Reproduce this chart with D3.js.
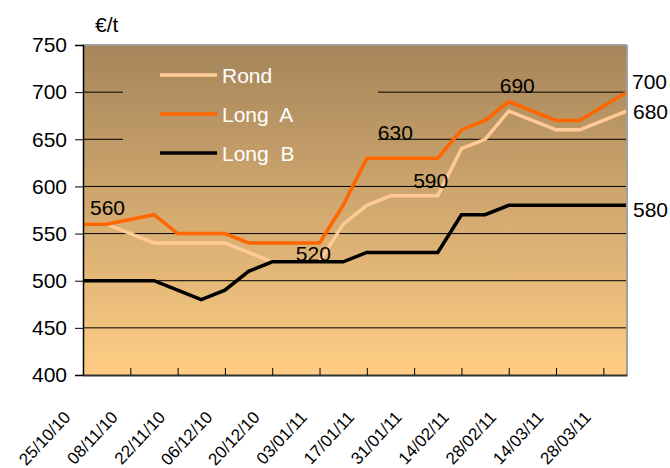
<!DOCTYPE html>
<html>
<head>
<meta charset="utf-8">
<script src="https://cdn.jsdelivr.net/npm/d3@7"></script>
<style>
  body { margin: 0; background: #fff; }
  svg text { font-family: "Liberation Sans", Arial, sans-serif; }
</style>
</head>
<body>
<div id="app"></div>
<script>
// weekly dates
const dates = [
  "25/10/10", "01/11/10", "08/11/10", "15/11/10", "22/11/10", "29/11/10",
  "06/12/10", "13/12/10", "20/12/10", "27/12/10", "03/01/11", "10/01/11",
  "17/01/11", "24/01/11", "31/01/11", "07/02/11", "14/02/11", "21/02/11",
  "28/02/11", "07/03/11", "14/03/11", "21/03/11", "28/03/11", "04/04/11"
];
const rond = [560, 560, 550, 540, 540, 540, 540, 530, 520, 520, 520, 560,
  580, 590, 590, 590, 640, 650, 680, 670, 660, 660, 670, 680];
const longA = [560, 560, 565, 570, 550, 550, 550, 540, 540, 540, 540, 580,
  630, 630, 630, 630, 660, 670, 690, 680, 670, 670, 685, 700];
const longB = [500, 500, 500, 500, 490, 480, 490, 510, 520, 520, 520, 520,
  530, 530, 530, 530, 570, 570, 580, 580, 580, 580, 580, 580];
const tickLabels = dates.filter((d, i) => i % 2 === 0);
const yTicks = [400, 450, 500, 550, 600, 650, 700, 750];

const series = [
  { name: "Rond", values: rond, color: "#ffca96" },
  { name: "Long  A", values: longA, color: "#ff6600" },
  { name: "Long  B", values: longB, color: "#000000" }
];

// value labels: series index, point index, text
const valueLabels = [
  { s: 1, i: 0, text: "560", dx: 7, dy: -9 },
  { s: 2, i: 9, text: "520", dx: 0, dy: -1 },
  { s: 1, i: 12, text: "630", dx: 11, dy: -18 },
  { s: 0, i: 14, text: "590", dx: -1, dy: -8 },
  { s: 1, i: 18, text: "690", dx: -9, dy: -9 },
  { s: 1, i: 23, text: "700", dx: 5, dy: -3 },
  { s: 0, i: 23, text: "680", dx: 6, dy: 8 },
  { s: 2, i: 23, text: "580", dx: 6, dy: 12 }
];

const W = 670, H = 468;
const m = { top: 45, left: 83 };
const w = 544, h = 330;

const svg = d3.select("#app").append("svg").attr("width", W).attr("height", H);

const defs = svg.append("defs");
const grad = defs.append("linearGradient")
  .attr("id", "bg")
  .attr("gradientUnits", "userSpaceOnUse")
  .attr("x1", 0).attr("y1", 0).attr("x2", 0).attr("y2", h);
grad.append("stop").attr("offset", 0).attr("stop-color", "#a5855a");
grad.append("stop").attr("offset", 1).attr("stop-color", "#ffcd85");

const g = svg.append("g").attr("transform", `translate(${m.left},${m.top})`);

const x = d3.scalePoint().domain(dates).range([0, w]);
const y = d3.scaleLinear().domain([400, 750]).range([h, 0]);

// background
g.append("rect").attr("width", w).attr("height", h).attr("fill", "url(#bg)");

// gridlines
g.append("g")
  .selectAll("line")
  .data(yTicks.filter((d) => d > 400 && d < 750))
  .join("line")
  .attr("x1", 0).attr("x2", w)
  .attr("y1", (d) => y(d)).attr("y2", (d) => y(d))
  .attr("stroke", "#000").attr("stroke-width", 1);

// legend box (same fill, hides grid)
const legend = g.append("g");
legend.append("rect")
  .attr("x", 40).attr("y", 6).attr("width", 255).attr("height", 124)
  .attr("fill", "url(#bg)");

series.forEach((s, k) => {
  const ly = 30 + k * 39;
  legend.append("line")
    .attr("x1", 77).attr("x2", 134).attr("y1", ly).attr("y2", ly)
    .attr("stroke", s.color).attr("stroke-width", 3.5);
  legend.append("text")
    .attr("x", 139).attr("y", ly + 7.5)
    .attr("fill", "#fff").attr("font-size", 21)
    .style("white-space", "pre")
    .text(s.name);
});

// lines
const line = d3.line()
  .x((d, i) => x(dates[i]))
  .y((d) => y(d));

g.append("g")
  .selectAll("path")
  .data(series)
  .join("path")
  .attr("d", (d) => line(d.values))
  .attr("fill", "none")
  .attr("stroke", (d) => d.color)
  .attr("stroke-width", 3.5)
  .attr("stroke-linejoin", "miter");

// value labels
g.append("g")
  .selectAll("text")
  .data(valueLabels)
  .join("text")
  .attr("x", (d) => x(dates[d.i]) + d.dx)
  .attr("y", (d) => y(series[d.s].values[d.i]) + d.dy)
  .attr("font-size", 21)
  .attr("fill", "#000")
  .text((d) => d.text);

// borders
g.append("line").attr("x1", 0).attr("x2", w).attr("y1", 0).attr("y2", 0)
  .attr("stroke", "#a0a0a0").attr("stroke-width", 2);
g.append("line").attr("x1", w).attr("x2", w).attr("y1", 0).attr("y2", h)
  .attr("stroke", "#a0a0a0").attr("stroke-width", 2);

// y axis
const yAxis = d3.axisLeft(y).tickValues(yTicks).tickSize(8).tickPadding(8);
const yg = g.append("g").call(yAxis);
yg.select(".domain").attr("stroke", "#000").attr("stroke-width", 1.5);
yg.selectAll(".tick line").attr("stroke", "#000");
yg.selectAll(".tick text")
  .attr("font-size", 21).attr("fill", "#000")
  .attr("font-family", "Liberation Sans, Arial, sans-serif");

// x axis
const xAxis = d3.axisBottom(x).tickValues(tickLabels).tickSize(-7).tickSizeOuter(0);
const xg = g.append("g").attr("transform", `translate(0,${h})`).call(xAxis);
xg.select(".domain").attr("stroke", "#333").attr("stroke-width", 2);
xg.selectAll(".tick line").attr("stroke", "#000");
xg.selectAll(".tick text")
  .attr("font-size", 17).attr("fill", "#000")
  .attr("font-family", "Liberation Sans, Arial, sans-serif")
  .attr("text-anchor", "end")
  .attr("dy", 0)
  .attr("y", 0)
  .attr("transform", "translate(-12,43) rotate(-47)");

// unit label
svg.append("text")
  .attr("x", 95).attr("y", 32)
  .attr("font-size", 21)
  .text("€/t");
</script>
</body>
</html>
